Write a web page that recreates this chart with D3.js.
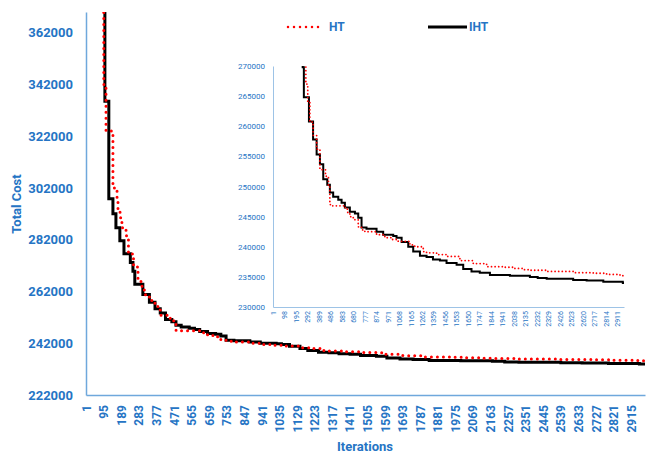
<!DOCTYPE html>
<html>
<head>
<meta charset="utf-8">
<script src="https://cdn.jsdelivr.net/npm/d3@7"></script>
<style>
  body { margin: 0; background: #fff; }
  text { font-family: Roboto, "Noto Sans", sans-serif; }
</style>
</head>
<body>
<svg id="chart" width="654" height="455"></svg>
<script>
// step change points (iteration, total cost)
const ihtIter = [1, 102, 123, 145, 161, 182, 204, 238, 252, 262, 305, 340, 370, 398, 426, 460, 482, 510, 553, 581, 609, 651, 694, 722, 750, 792, 877, 933, 1018, 1046, 1089, 1145, 1187, 1244, 1300, 1354, 1413, 1469, 1554, 1610, 1680, 1750, 1836, 2005, 2174, 2240, 2316, 2540, 2654, 2795, 2960];
const ihtCost = [400000, 335500, 297800, 292000, 286600, 281600, 276600, 273200, 269800, 264800, 260800, 257800, 255300, 253700, 251200, 250300, 249000, 248300, 247800, 247300, 246500, 245800, 245500, 244800, 243200, 243000, 242500, 242000, 241800, 241500, 240800, 240000, 239200, 238500, 238300, 237900, 237700, 237300, 237000, 236300, 235900, 235700, 235300, 235200, 235000, 234800, 234700, 234500, 234400, 234200, 234000];

const htIter = [1, 96, 108, 145, 161, 167, 172, 183, 193, 215, 228, 255, 279, 295, 313, 340, 370, 398, 445, 470, 482, 496, 609, 630, 651, 680, 722, 750, 778, 877, 947, 1000, 1060, 1159, 1200, 1272, 1300, 1385, 1469, 1582, 1695, 1808, 1949, 2033, 2117, 2174, 2315, 2540, 2710, 2823, 2936, 2960];
const htCost = [400000, 342000, 324000, 302000, 301000, 297000, 293900, 290500, 286600, 283500, 276500, 271500, 267000, 264000, 260700, 258500, 256200, 252800, 251700, 250000, 247000, 246800, 246500, 245700, 245000, 244500, 243300, 242800, 242500, 242000, 241500, 241200, 240900, 240300, 240000, 239200, 239000, 238700, 238400, 237700, 237200, 236700, 236600, 236400, 236200, 236100, 235900, 235700, 235600, 235400, 235300, 235200];

const mainYTicks = [222000, 242000, 262000, 282000, 302000, 322000, 342000, 362000];
const mainXTicks = [1, 95, 189, 283, 377, 471, 565, 659, 753, 847, 941, 1035, 1129, 1223, 1317, 1411, 1505, 1599, 1693, 1787, 1881, 1975, 2069, 2163, 2257, 2351, 2445, 2539, 2633, 2727, 2821, 2915];
const insetYTicks = [230000, 235000, 240000, 245000, 250000, 255000, 260000, 265000, 270000];
const insetXTicks = [1, 98, 195, 292, 389, 486, 583, 680, 777, 874, 971, 1068, 1165, 1262, 1359, 1456, 1553, 1650, 1747, 1844, 1941, 2038, 2135, 2232, 2329, 2426, 2523, 2620, 2717, 2814, 2911];

const BLUE = "#2574c4";
const svg = d3.select("#chart");

// pair the change points and carry the last value to the end of the axis
function toSteps(iters, costs, lastIter) {
    let pts = iters.map((it, i) => [it, costs[i]]);
    pts.push([lastIter, costs[costs.length - 1]]);
    return pts;
}

/*
   draw one panel (axes + both series) into the svg
   o: box, domains, ticks and style sizes
*/
function drawPanel(o) {
    let g = svg.append("g");
    let x = d3.scaleLinear().domain([1, o.n]).range([o.left, o.right]);
    let y = d3.scaleLinear().domain(o.yDomain).range([o.bottom, o.top]);

    let clipId = "clip" + o.name;
    g.append("clipPath").attr("id", clipId)
        .append("rect")
        .attr("x", o.left).attr("y", o.top)
        .attr("width", o.right - o.left + 4).attr("height", o.bottom - o.top);

    let line = d3.line()
        .x(d => x(d[0]))
        .y(d => y(d[1]))
        .curve(d3.curveStepAfter);

    let lines = g.append("g").attr("clip-path", "url(#" + clipId + ")");
    lines.append("path")
        .datum(toSteps(ihtIter, ihtCost, o.n))
        .attr("d", line)
        .attr("fill", "none")
        .attr("stroke", "#000")
        .attr("stroke-width", o.blackWidth);
    lines.append("path")
        .datum(toSteps(htIter, htCost, o.n))
        .attr("d", line)
        .attr("fill", "none")
        .attr("stroke", "#ff0000")
        .attr("stroke-width", o.dotSize)
        .attr("stroke-linecap", "round")
        .attr("stroke-dasharray", "0 " + o.dotGap);

    // axes: plain lines, no tick marks
    let yAxis = g.append("g")
        .attr("transform", "translate(" + o.left + ",0)")
        .call(d3.axisLeft(y).tickValues(o.yTicks).tickSize(0)
              .tickPadding(o.yPad).tickFormat(d3.format("d")));
    let xAxis = g.append("g")
        .attr("transform", "translate(0," + o.bottom + ")")
        .call(d3.axisBottom(x).tickValues(o.xTicks).tickSize(0).tickFormat(d3.format("d")));

    [yAxis, xAxis].forEach(a => {
        a.select(".domain").attr("stroke", o.axisColour).attr("stroke-width", o.axisWidth);
        a.selectAll("text")
            .attr("fill", BLUE)
            .style("font-size", o.fontSize)
            .style("font-weight", o.fontWeight);
    });
    yAxis.selectAll("text").style("font-size", o.yFontSize);

    xAxis.selectAll("text")
        .attr("transform", "rotate(-90)")
        .attr("text-anchor", "end")
        .attr("x", -o.xPad)
        .attr("y", 0)
        .attr("dy", "0.35em");
    return g;
}

// main chart
drawPanel({
    name: "main", n: 2990,
    left: 86, right: 645, top: 12, bottom: 395,
    yDomain: [222000, 370000],
    yTicks: mainYTicks, xTicks: mainXTicks,
    blackWidth: 3, dotSize: 3, dotGap: 6,
    axisColour: "#6fa8dc", axisWidth: 1.5,
    fontSize: "12px", yFontSize: "13px", fontWeight: "bold",
    yPad: 13, xPad: 10
});

// zoomed inset
drawPanel({
    name: "inset", n: 2970,
    left: 273, right: 624, top: 66, bottom: 307,
    yDomain: [230000, 270000],
    yTicks: insetYTicks, xTicks: insetXTicks,
    blackWidth: 2, dotSize: 1.8, dotGap: 3.6,
    axisColour: "#9dc3e6", axisWidth: 1,
    fontSize: "7px", yFontSize: "8px", fontWeight: "normal",
    yPad: 8, xPad: 4
});

// axis titles
svg.append("text")
    .attr("transform", "translate(21,204) rotate(-90)")
    .attr("text-anchor", "middle")
    .attr("fill", BLUE)
    .style("font-size", "13px").style("font-weight", "bold")
    .text("Total Cost");
svg.append("text")
    .attr("x", 365).attr("y", 451)
    .attr("text-anchor", "middle")
    .attr("fill", BLUE)
    .style("font-size", "13px").style("font-weight", "bold")
    .text("Iterations");

// legend
let legend = svg.append("g");
legend.append("line")
    .attr("x1", 288).attr("x2", 323).attr("y1", 27).attr("y2", 27)
    .attr("stroke", "#ff0000").attr("stroke-width", 2.5)
    .attr("stroke-linecap", "round").attr("stroke-dasharray", "0 6");
legend.append("text")
    .attr("x", 329).attr("y", 31)
    .attr("fill", BLUE)
    .style("font-size", "12px").style("font-weight", "bold")
    .text("HT");
legend.append("line")
    .attr("x1", 428).attr("x2", 467).attr("y1", 27).attr("y2", 27)
    .attr("stroke", "#000").attr("stroke-width", 3);
legend.append("text")
    .attr("x", 469).attr("y", 31)
    .attr("fill", BLUE)
    .style("font-size", "12px").style("font-weight", "bold")
    .text("IHT");
</script>
</body>
</html>
